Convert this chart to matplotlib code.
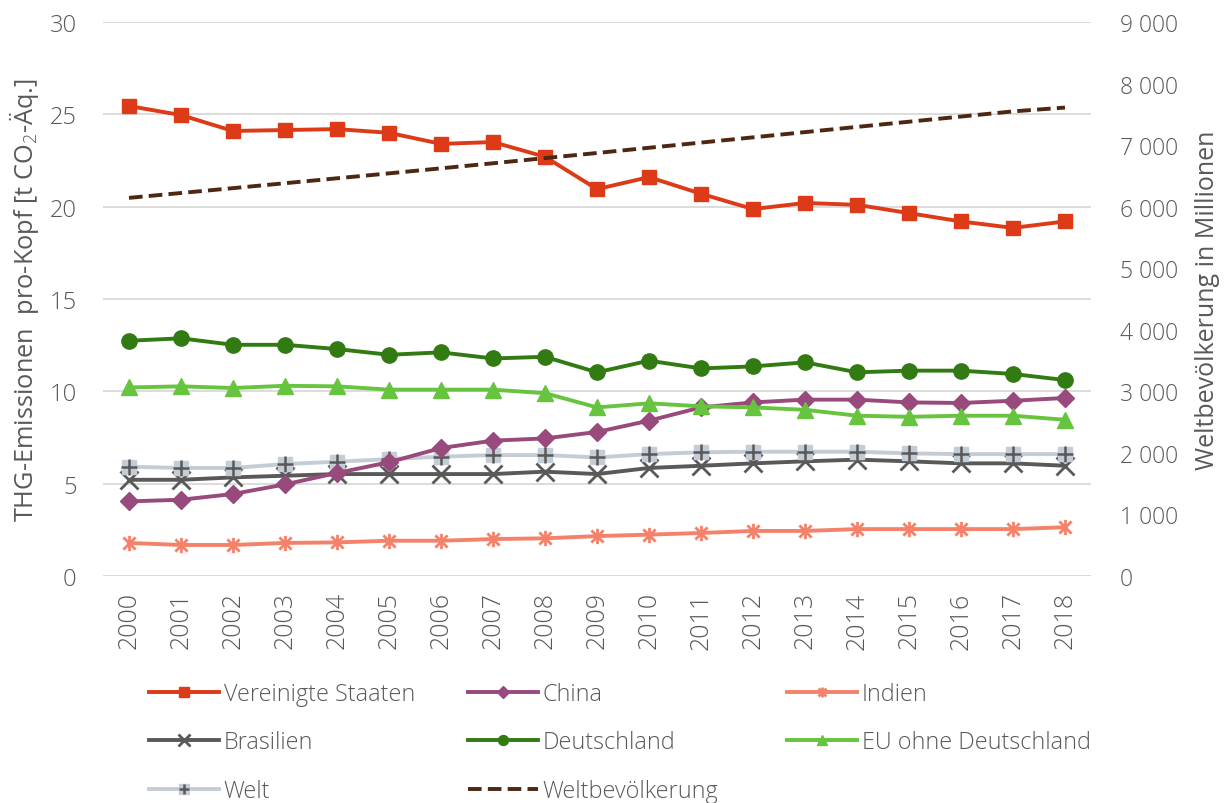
import matplotlib
matplotlib.use("Agg")
import matplotlib.pyplot as plt
from matplotlib.path import Path
from matplotlib.legend_handler import HandlerTuple
from matplotlib.ticker import FuncFormatter

plt.rcParams["font.family"] = ["Open Sans", "DejaVu Sans"]
plt.rcParams["font.weight"] = "light"
plt.rcParams["mathtext.fontset"] = "custom"
plt.rcParams["mathtext.rm"] = "Open Sans:light"

TEXT = "#595959"
GRID = "#d9d9d9"

# ─── Data ────────────────────────────────────────────────────────────────────
years = list(range(2000, 2019))

usa         = [25.45, 24.96, 24.10, 24.15, 24.20, 24.00, 23.40, 23.50, 22.70, 20.95,
               21.60, 20.70, 19.87, 20.20, 20.10, 19.65, 19.20, 18.85, 19.20]
china       = [4.04, 4.13, 4.44, 4.96, 5.58, 6.16, 6.93, 7.33, 7.45, 7.80,
               8.41, 9.13, 9.40, 9.55, 9.55, 9.40, 9.37, 9.49, 9.64]
indien      = [1.79, 1.68, 1.68, 1.79, 1.82, 1.91, 1.91, 2.00, 2.04, 2.16,
               2.24, 2.33, 2.44, 2.44, 2.54, 2.54, 2.54, 2.54, 2.64]
brasilien   = [5.21, 5.21, 5.34, 5.43, 5.52, 5.52, 5.52, 5.52, 5.65, 5.52,
               5.85, 5.97, 6.10, 6.21, 6.30, 6.21, 6.10, 6.10, 5.97]
deutschland = [12.74, 12.87, 12.52, 12.52, 12.29, 11.98, 12.11, 11.78, 11.87, 11.03,
               11.66, 11.24, 11.35, 11.57, 11.03, 11.12, 11.12, 10.94, 10.61]
eu_ohne_de  = [10.21, 10.27, 10.18, 10.30, 10.27, 10.09, 10.09, 10.09, 9.90, 9.13,
               9.35, 9.19, 9.13, 9.00, 8.68, 8.62, 8.68, 8.68, 8.46]
welt        = [5.92, 5.85, 5.85, 6.06, 6.19, 6.33, 6.46, 6.55, 6.55, 6.42,
               6.60, 6.70, 6.73, 6.73, 6.73, 6.64, 6.60, 6.60, 6.60]
bevoelkerung = [6143, 6222, 6301, 6381, 6461, 6541, 6623, 6705, 6789, 6872,
                6957, 7041, 7126, 7211, 7296, 7380, 7464, 7548, 7610]

left_ticks = [0, 5, 10, 15, 20, 25, 30]
right_ticks = list(range(0, 9001, 1000))

# asterisk marker (X with vertical bar), as Excel draws it
ast = Path([(-1, -1), (1, 1), (-1, 1), (1, -1), (0, -1.25), (0, 1.25)],
           [Path.MOVETO, Path.LINETO] * 3)

# ─── Figure ──────────────────────────────────────────────────────────────────
fig = plt.figure(figsize=(12.32, 8.04), dpi=100)
ax = fig.add_axes([103 / 1232, 1 - 577 / 804, 988 / 1232, 554 / 804])
ax2 = ax.twinx()

x = list(range(len(years)))
lw = 2.8

l_usa, = ax.plot(x, usa, color="#dd3a17", lw=lw, marker="s", ms=10, zorder=5)
l_chn, = ax.plot(x, china, color="#974a7b", lw=lw, marker="D", ms=9, zorder=4)
l_ind, = ax.plot(x, indien, color="#f4826a", lw=lw, marker=ast, ms=11,
                 mew=2, zorder=4)
l_bra, = ax.plot(x, brasilien, color="#595959", lw=lw, marker="x", ms=13,
                 mew=2, zorder=3)
l_deu, = ax.plot(x, deutschland, color="#317b12", lw=lw, marker="o", ms=11, zorder=4)
l_eu, = ax.plot(x, eu_ohne_de, color="#66c43f", lw=lw, marker="^", ms=12, zorder=4)
l_welt, = ax.plot(x, welt, color="#c4cdd6", lw=lw, marker="s", ms=10, zorder=3.5)
l_plus, = ax.plot(x, welt, color="#595959", lw=0, marker="+", ms=11, mew=1.8,
                  zorder=3.6)

l_pop, = ax2.plot(x, bevoelkerung, color="#4d2712", lw=2.8,
                  linestyle=(0, (3.5, 1.6)))

# ─── Axes styling ────────────────────────────────────────────────────────────
ax.set_xlim(-0.5, len(years) - 0.5)
ax.set_ylim(0, 30)
ax.set_yticks(left_ticks)
ax2.set_ylim(0, 9000)
ax2.set_yticks(right_ticks)
ax2.yaxis.set_major_formatter(FuncFormatter(lambda v, p: f"{int(v):,}".replace(",", " ")))

ax.set_xticks(x)
ax.set_xticklabels([str(y) for y in years], rotation=90)

ax.grid(axis="y", color=GRID, lw=1.3)
ax.set_axisbelow(True)
for a in (ax, ax2):
    for s in a.spines.values():
        s.set_visible(False)

ax.tick_params(axis="y", length=0, pad=19, labelsize=17, labelcolor=TEXT)
ax.tick_params(axis="x", length=0, pad=11, labelsize=18, labelcolor=TEXT)
ax2.tick_params(axis="y", length=0, pad=21, labelsize=16.5, labelcolor=TEXT)

ax.set_ylabel("THG-Emissionen  pro-Kopf [t CO$_2$-Äq.]", fontsize=18.3, color=TEXT)
ax.yaxis.set_label_coords(-0.063, 0.5)
ax2.set_ylabel("Weltbevölkerung in Millionen", fontsize=18, color=TEXT)
ax2.yaxis.set_label_coords(1.105, 0.5)

# ─── Legend (three columns, placed individually) ─────────────────────────────
welt_handle = (l_welt, l_plus)
columns = [
    ([l_usa, l_bra, welt_handle], ["Vereinigte Staaten", "Brasilien", "Welt"], 137),
    ([l_chn, l_deu, l_pop], ["China", "Deutschland", "Weltbevölkerung"], 456),
    ([l_ind, l_eu], ["Indien", "EU ohne Deutschland"], 775),
]
for handles, labels, px in columns:
    fig.legend(handles, labels, loc="upper left",
               bbox_to_anchor=(px / 1232, 1 - 671 / 804),
               frameon=False, fontsize=16.8, labelcolor=TEXT,
               handlelength=3.0, handletextpad=0.22, labelspacing=1.06,
               markerscale=0.65, borderpad=0,
               handler_map={tuple: HandlerTuple(ndivide=1)})

fig.savefig("out.png", dpi=100)
